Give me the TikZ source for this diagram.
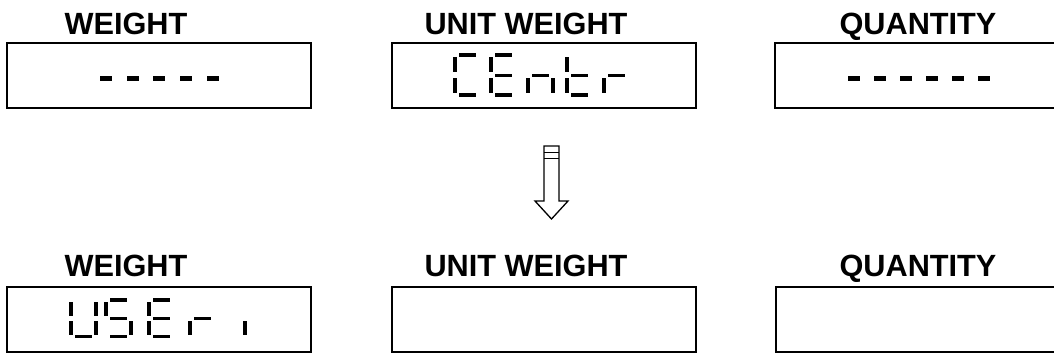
\documentclass[tikz,border=0pt]{standalone}
\usepackage{fontspec}
\setsansfont{Liberation Sans}
\usetikzlibrary{positioning}
\tikzset{
  lcdbox/.style={draw=black,line width=2pt,minimum width=304pt,
                 minimum height=65pt,inner sep=0pt},
  caption/.style={anchor=base,inner sep=0pt,
                  font=\sffamily\bfseries\fontsize{30.7}{36}\selectfont},
  lcdseg/.style={fill=black},
  flowarr/.style={draw=black,line width=1.3pt,fill=white,line join=miter},
  pics/lcd/.style={code={\foreach \s in {#1}{\csname lcdseg\s\endcsname}}}
}
\newcommand{\lcdsega}{\fill[lcdseg] (6,0) rectangle (23,4);}
\newcommand{\lcdsegb}{\fill[lcdseg] (25,4) rectangle (29,19);}
\newcommand{\lcdsegc}{\fill[lcdseg] (25,25) rectangle (29,40);}
\newcommand{\lcdsegd}{\fill[lcdseg] (6,40) rectangle (23,43.5);}
\newcommand{\lcdsege}{\fill[lcdseg] (0,25) rectangle (4,40);}
\newcommand{\lcdsegf}{\fill[lcdseg] (0,4) rectangle (4,19);}
\newcommand{\lcdsegg}{\fill[lcdseg] (6,20.5) rectangle (23,24);}
\begin{document}
\begin{tikzpicture}[x=1pt,y=-1pt]
    \path[use as bounding box] (0,0) rectangle (1054,353);

    \node[caption] (wlab1) at (126,35) {WEIGHT};
    \node[caption] (ulab1) at (526,35) {UNIT WEIGHT};
    \node[caption] (qlab1) at (918,35) {QUANTITY};
    \node[lcdbox] (wbox1) at (159,75.5) {};
    \node[lcdbox] (ubox1) at (544,75.5) {};
    \node[lcdbox] (qbox1) at (927,75.5) {};

    \foreach \i in {0,...,4}
      \fill[lcdseg] ({100+26.7*\i},75.5) rectangle +(12,5);
    \foreach \i in {0,...,5}
      \fill[lcdseg] ({848+26*\i},76) rectangle +(12,5);

    \pic at (453,53) {lcd={a,d,e,f}};
    \pic at (489,53) {lcd={a,d,e,f,g}};
    \pic at (526,53) {lcd={c,e,g}};
    \pic at (565,53) {lcd={d,e,f,g}};
    \pic at (602,53) {lcd={e,g}};

    \coordinate (flow) at (551.5,146);
    \draw[flowarr] (544,146) -- (559,146) -- (559,201) -- (568,201)
      -- (551.5,219) -- (535,201) -- (544,201) -- cycle;
    \draw[flowarr] (544,152.5) -- (559,152.5);
    \draw[flowarr] (544,158.5) -- (559,158.5);

    \node[caption] (wlab2) at (126,276) {WEIGHT};
    \node[caption] (ulab2) at (526,276) {UNIT WEIGHT};
    \node[caption] (qlab2) at (918,276) {QUANTITY};
    \node[lcdbox] (wbox2) at (159,319.5) {};
    \node[lcdbox] (ubox2) at (543.5,319.5) {};
    \node[lcdbox] (qbox2) at (928,319) {};

    \pic[yscale=0.93] at (69,298) {lcd={b,c,d,e,f}};
    \pic[yscale=0.93] at (104,298) {lcd={a,c,d,f,g}};
    \pic[yscale=0.93] at (147,298) {lcd={a,d,e,f,g}};
    \pic[yscale=0.93] at (188,298) {lcd={e,g}};
    \pic[yscale=0.93] at (218,298) {lcd={c}};
  \end{tikzpicture}
\end{document}
